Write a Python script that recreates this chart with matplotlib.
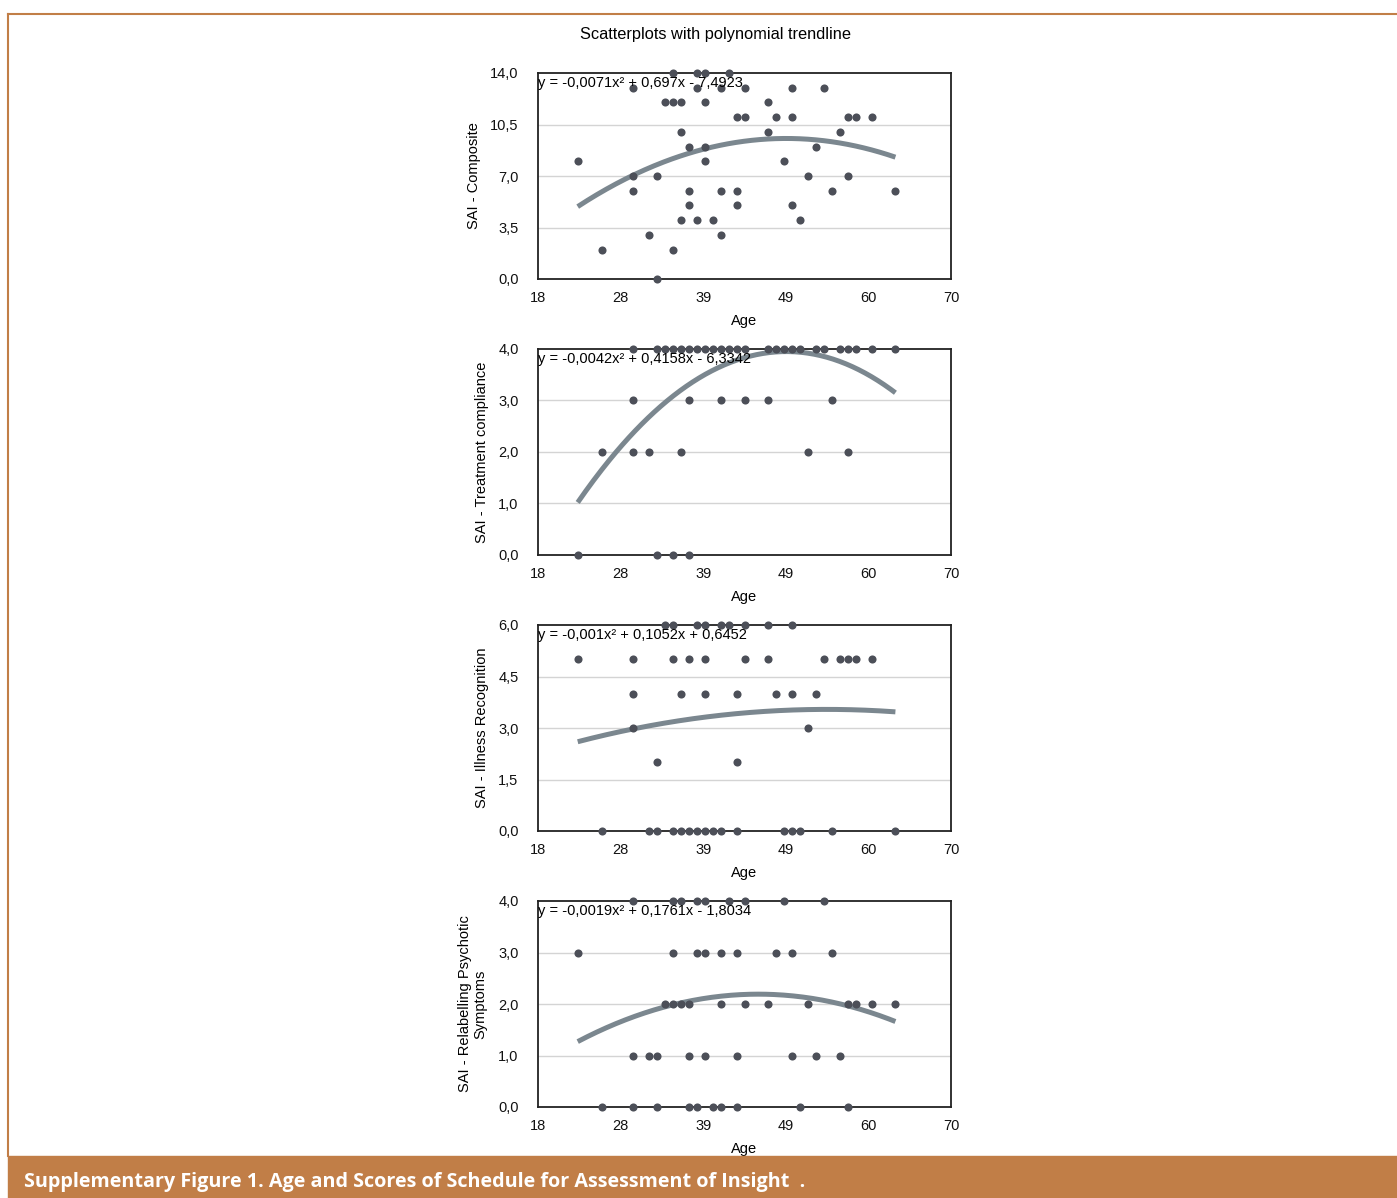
import numpy as np
import matplotlib
matplotlib.use("Agg")
import matplotlib.pyplot as plt
from matplotlib.lines import Line2D
from matplotlib.patches import Rectangle

plt.rcParams['font.family'] = ['Liberation Sans', 'DejaVu Sans']

# ages / scores, one list per panel
comp_age = [35, 38, 39, 42,
            30, 38, 41, 44, 50, 54,
            34, 35, 36, 39, 47,
            43, 44, 48, 50, 57, 58, 60,
            36, 47, 56,
            37, 39, 53,
            23, 39, 49,
            30, 33, 52, 57,
            30, 37, 41, 43, 55, 63,
            37, 43, 50,
            36, 38, 40, 51,
            32, 41,
            26, 35,
            33]
comp_val = [14] * 4 + [13] * 6 + [12] * 5 + [11] * 7 + [10] * 3 + [9] * 3 + [8] * 3 \
    + [7] * 4 + [6] * 6 + [5] * 3 + [4] * 4 + [3] * 2 + [2] * 2 + [0]

treat_age = [30, 33, 34, 35, 36, 37, 38, 39, 40, 41, 42, 43, 44, 47, 48, 49, 50, 51,
             53, 54, 56, 57, 58, 60, 63,
             30, 37, 41, 44, 47, 55,
             26, 30, 32, 36, 52, 57,
             23, 33, 35, 37]
treat_val = [4] * 25 + [3] * 6 + [2] * 6 + [0] * 4

ill_age = [34, 35, 38, 39, 41, 42, 44, 47, 50,
           23, 30, 35, 37, 39, 44, 47, 54, 56, 57, 58, 60,
           30, 36, 39, 43, 48, 50, 53,
           30, 52,
           33, 43,
           26, 32, 33, 35, 36, 37, 38, 39, 40, 41, 43, 49, 50, 51, 55, 63]
ill_val = [6] * 9 + [5] * 12 + [4] * 7 + [3] * 2 + [2] * 2 + [0] * 16

rel_age = [30, 35, 36, 38, 39, 42, 44, 49, 54,
           23, 35, 38, 39, 41, 43, 48, 50, 55,
           34, 35, 36, 37, 41, 44, 47, 52, 57, 58, 60, 63,
           30, 32, 33, 37, 39, 43, 50, 53, 56,
           26, 30, 33, 37, 38, 40, 41, 43, 51, 57]
rel_val = [4] * 9 + [3] * 9 + [2] * 12 + [1] * 9 + [0] * 10

# trendline: three points (start, top, end)
trend_x = [[23, 49, 63], [23, 49.5, 63], [23, 53, 63], [23, 45, 63]]
trend_y = [[4.92, 9.55, 8.28], [1.02, 3.95, 3.15], [2.60, 3.54, 3.47], [1.27, 2.19, 1.66]]

eq_texts = ['y = -0,0071x² + 0,697x - 7,4923',
            'y = -0,0042x² + 0,4158x - 6,3342',
            'y = -0,001x² + 0,1052x + 0,6452',
            'y = -0,0019x² + 0,1761x - 1,8034']
ylabels = ['SAI - Composite', 'SAI - Treatment compliance',
           'SAI - Illness Recognition', 'SAI - Relabelling Psychotic\nSymptoms']
ymaxs = [14, 4, 6, 4]
ysteps = [3.5, 1, 1.5, 1]
xtick_labels = ['18', '28', '39', '49', '60', '70']
ages = [comp_age, treat_age, ill_age, rel_age]
scores = [comp_val, treat_val, ill_val, rel_val]

W, H = 1397, 1198
fig = plt.figure(figsize=(W / 100, H / 100), dpi=100)

tops = [73, 349, 625, 901]
left, right = 538, 951
ph = 206
dot = '#4c4f58'
trend = '#7b878f'

for i in range(4):
    ax = fig.add_axes([left / W, 1 - (tops[i] + ph) / H, (right - left) / W, ph / H])
    ax.set_xlim(18, 70)
    ax.set_ylim(0, ymaxs[i])
    yt = np.arange(0, ymaxs[i] + 0.01, ysteps[i])
    ax.set_yticks(yt)
    ax.set_yticklabels([('%.1f' % v).replace('.', ',') for v in yt])
    ax.set_xticks(np.linspace(18, 70, 6))
    ax.set_xticklabels(xtick_labels)
    ax.tick_params(length=0, labelsize=10.5, colors='#111111')
    ax.tick_params(axis='x', pad=9)
    ax.tick_params(axis='y', pad=14)
    for v in yt[1:-1]:
        ax.axhline(v, color='#d4d4d4', lw=1, zorder=0)
    for s in ax.spines.values():
        s.set_color('#222222')
        s.set_linewidth(1.3)
    p = np.polyfit(trend_x[i], trend_y[i], 2)
    xs = np.linspace(trend_x[i][0], trend_x[i][-1], 200)
    ax.plot(xs, np.polyval(p, xs), color=trend, lw=3.6, zorder=2,
            solid_capstyle='butt')
    ax.scatter(ages[i], scores[i], s=34, color=dot, zorder=3, clip_on=False,
               linewidths=0)
    ax.text(0, 1 - 10 / ph, eq_texts[i], transform=ax.transAxes, ha='left',
            va='center', fontsize=10.5, zorder=4)
    ax.text(0.5, -42 / ph, 'Age', transform=ax.transAxes, ha='center',
            va='center', fontsize=10.5)
    lx = [474, 482, 482, 473][i]
    ax.text((lx - left) / (right - left), 0.5, ylabels[i], transform=ax.transAxes,
            rotation=90, ha='center', va='center', fontsize=10.5,
            multialignment='center', linespacing=1.1)

fig.text(715 / W, 1 - 34 / H, 'Scatterplots with polynomial trendline',
         ha='center', va='center', fontsize=11.8)

# orange frame and caption bar
orange = '#c17e47'
fig.add_artist(Line2D([8 / W, 1], [1 - 13.5 / H, 1 - 13.5 / H], color=orange,
                      lw=1.5, transform=fig.transFigure))
fig.add_artist(Line2D([8 / W, 8 / W], [1 - 13.5 / H, 1 - 1156 / H], color=orange,
                      lw=1.5, transform=fig.transFigure))
fig.add_artist(Rectangle((8 / W, 0), 1 - 8 / W, (H - 1156) / H,
                         color=orange, transform=fig.transFigure, zorder=5))
fig.text(24 / W, 1 - 1182 / H,
         'Supplementary Figure 1. Age and Scores of Schedule for Assessment of Insight  .',
         ha='left', va='center', fontsize=14.2, color='white', fontweight='bold',
         family=['Open Sans', 'DejaVu Sans'], zorder=6)

fig.savefig('out.png', dpi=100)
